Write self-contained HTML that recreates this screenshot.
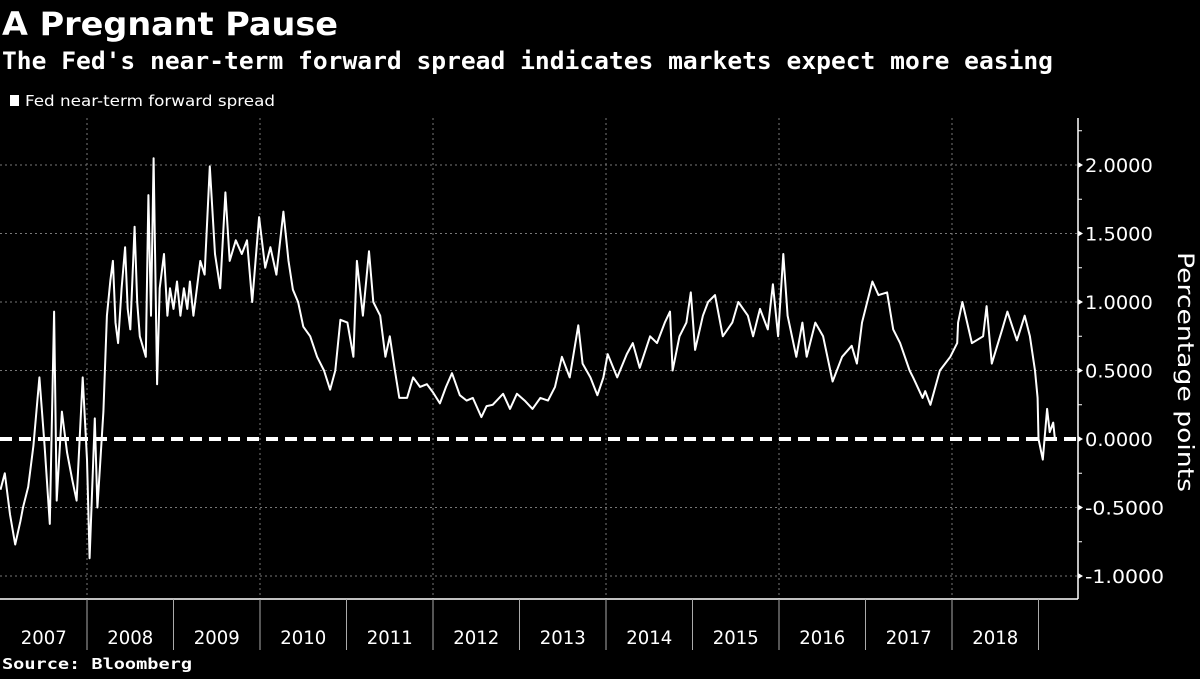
<!DOCTYPE html>
<html><head><meta charset="utf-8"><style>
html,body{margin:0;padding:0;background:#000;}
body{width:1200px;height:675px;overflow:hidden;font-family:"DejaVu Sans",sans-serif;color:#fff;}
</style></head><body>
<svg width="1200" height="675" viewBox="0 0 1200 675" xmlns="http://www.w3.org/2000/svg">
<rect width="1200" height="675" fill="#000"/>
<text x="2" y="35" font-size="32" font-weight="bold" fill="#fff" font-family="DejaVu Sans, sans-serif" textLength="336" lengthAdjust="spacingAndGlyphs">A Pregnant Pause</text>
<text x="2" y="69" font-size="24" font-weight="bold" fill="#fff" font-family="DejaVu Sans Mono, monospace" textLength="1051" lengthAdjust="spacingAndGlyphs">The Fed's near-term forward spread indicates markets expect more easing</text>
<rect x="10" y="95" width="9" height="11" fill="#fff"/>
<text x="25" y="106" font-size="15" fill="#fff" font-family="DejaVu Sans, sans-serif" textLength="250" lengthAdjust="spacingAndGlyphs">Fed near-term forward spread</text>
<g id="grid"></g>
<g id="axes"></g>
<g id="series"></g>
<text transform="translate(1178,372) rotate(90)" text-anchor="middle" font-size="22" fill="#fff" font-family="DejaVu Sans, sans-serif" textLength="240" lengthAdjust="spacingAndGlyphs">Percentage points</text>
<text x="2" y="669" font-size="15" font-weight="bold" fill="#fff" font-family="DejaVu Sans Mono, monospace" textLength="190" lengthAdjust="spacingAndGlyphs">Source: Bloomberg</text>
</svg>
<script>
const years = [2007,2008,2009,2010,2011,2012,2013,2014,2015,2016,2017,2018];
const yTicks = [2.0,1.5,1.0,0.5,0.0,-0.5,-1.0];
const yTickLabels = ["2.0000","1.5000","1.0000","0.5000","0.0000","-0.5000","-1.0000"];
const gridYears = [2008,2010,2012,2014,2016,2018];
const dates = [2007.00,2007.05,2007.11,2007.17,2007.23,2007.26,2007.32,2007.38,2007.45,2007.51,2007.57,2007.62,2007.65,2007.71,2007.77,2007.83,2007.88,2007.95,2008.00,2008.03,2008.09,2008.12,2008.15,2008.19,2008.23,2008.27,2008.30,2008.33,2008.36,2008.40,2008.44,2008.47,2008.50,2008.55,2008.58,2008.61,2008.68,2008.71,2008.74,2008.77,2008.81,2008.84,2008.89,2008.93,2008.96,2009.00,2009.04,2009.08,2009.12,2009.16,2009.19,2009.23,2009.27,2009.31,2009.36,2009.42,2009.48,2009.54,2009.60,2009.65,2009.72,2009.79,2009.85,2009.91,2009.99,2010.06,2010.12,2010.19,2010.27,2010.33,2010.38,2010.44,2010.50,2010.58,2010.66,2010.74,2010.81,2010.87,2010.93,2011.01,2011.08,2011.12,2011.19,2011.26,2011.31,2011.39,2011.45,2011.50,2011.56,2011.61,2011.70,2011.77,2011.85,2011.93,2012.00,2012.08,2012.15,2012.22,2012.31,2012.39,2012.46,2012.56,2012.62,2012.69,2012.81,2012.89,2012.97,2013.06,2013.15,2013.24,2013.33,2013.41,2013.49,2013.58,2013.68,2013.73,2013.82,2013.90,2013.97,2014.02,2014.13,2014.24,2014.31,2014.39,2014.51,2014.59,2014.68,2014.74,2014.77,2014.85,2014.93,2014.98,2015.03,2015.12,2015.18,2015.26,2015.35,2015.46,2015.53,2015.64,2015.70,2015.78,2015.87,2015.93,2015.99,2016.05,2016.10,2016.20,2016.27,2016.32,2016.42,2016.51,2016.62,2016.73,2016.84,2016.90,2016.96,2017.08,2017.15,2017.25,2017.32,2017.40,2017.51,2017.55,2017.66,2017.69,2017.75,2017.86,2017.98,2018.06,2018.07,2018.12,2018.23,2018.36,2018.40,2018.46,2018.58,2018.64,2018.75,2018.84,2018.90,2018.96,2018.99,2019.00,2019.05,2019.10,2019.13,2019.17,2019.19];
const values = [-0.37,-0.25,-0.55,-0.77,-0.60,-0.50,-0.35,-0.05,0.45,-0.05,-0.62,0.93,-0.45,0.20,-0.10,-0.30,-0.45,0.45,-0.15,-0.87,0.15,-0.50,-0.20,0.20,0.90,1.16,1.30,0.85,0.70,1.10,1.40,0.95,0.80,1.55,1.00,0.75,0.60,1.78,0.90,2.05,0.40,1.10,1.35,0.90,1.10,0.95,1.15,0.90,1.10,0.95,1.15,0.90,1.10,1.30,1.20,1.99,1.35,1.10,1.80,1.30,1.45,1.35,1.45,1.00,1.62,1.25,1.40,1.20,1.66,1.30,1.09,1.00,0.82,0.75,0.60,0.50,0.36,0.50,0.87,0.85,0.60,1.30,0.90,1.37,1.00,0.90,0.60,0.75,0.50,0.30,0.30,0.45,0.38,0.40,0.34,0.26,0.38,0.48,0.32,0.28,0.30,0.16,0.24,0.25,0.33,0.22,0.33,0.28,0.22,0.30,0.28,0.38,0.60,0.45,0.83,0.55,0.45,0.32,0.45,0.62,0.45,0.62,0.70,0.52,0.75,0.70,0.85,0.93,0.50,0.75,0.85,1.07,0.65,0.90,1.00,1.05,0.75,0.85,1.00,0.90,0.75,0.95,0.80,1.13,0.75,1.35,0.90,0.60,0.85,0.60,0.85,0.75,0.42,0.60,0.68,0.55,0.85,1.15,1.05,1.07,0.80,0.70,0.50,0.45,0.30,0.35,0.25,0.50,0.60,0.70,0.85,1.00,0.70,0.75,0.97,0.55,0.80,0.93,0.72,0.90,0.75,0.50,0.30,0.00,-0.15,0.22,0.05,0.12,0.00,-0.05];

const NS='http://www.w3.org/2000/svg';
const X0=0.5, PX_PER_YEAR=86.5, Y0=439, PX_PER_UNIT=137;
const PLOT_LEFT=0, PLOT_RIGHT=1078, PLOT_TOP=118, PLOT_BOTTOM=599;
function xScale(t){return X0+(t-2007)*PX_PER_YEAR;}
function yScale(v){return Y0-v*PX_PER_UNIT;}
function mk(tag,attrs,parent){const e=document.createElementNS(NS,tag);for(const k in attrs)e.setAttribute(k,attrs[k]);parent.appendChild(e);return e;}
const grid=document.getElementById('grid'), axes=document.getElementById('axes'), series=document.getElementById('series');

yTicks.forEach((v,i)=>{
  const y=yScale(v);
  if(v!==0){
    const g=mk('line',{x1:PLOT_LEFT,x2:PLOT_RIGHT,y1:y,y2:y,stroke:'#777','stroke-width':1,'stroke-dasharray':'2,3'},grid);
    
    
  }
  const tk=mk('path',{d:`M${PLOT_RIGHT},${y-3} L${PLOT_RIGHT+5},${y} L${PLOT_RIGHT},${y+3} Z`,fill:'#fff'},axes);
  
  
  const lbl=yTickLabels[i];
  const t=mk('text',{x:PLOT_RIGHT+7,y:y+7,'font-size':19,fill:'#fff','font-family':'DejaVu Sans, sans-serif',textLength:(lbl.length*11.3).toFixed(1),lengthAdjust:'spacingAndGlyphs'},axes);
  t.textContent=lbl;
  
  
});
for(let v=-0.75;v<=2.26;v+=0.5){
  const y=yScale(v);
  const m=mk('line',{x1:PLOT_RIGHT,x2:PLOT_RIGHT+4,y1:y,y2:y,stroke:'#fff','stroke-width':1},axes);
  
  
}
gridYears.forEach(yr=>{
  const x=xScale(yr);
  const g=mk('line',{x1:x,x2:x,y1:PLOT_TOP,y2:PLOT_BOTTOM,stroke:'#777','stroke-width':1,'stroke-dasharray':'2,3'},grid);
  
  
});
const ya=mk('line',{x1:PLOT_RIGHT,x2:PLOT_RIGHT,y1:PLOT_TOP,y2:PLOT_BOTTOM,stroke:'#fff','stroke-width':1.5},axes);


const xa=mk('line',{x1:PLOT_LEFT,x2:PLOT_RIGHT,y1:PLOT_BOTTOM,y2:PLOT_BOTTOM,stroke:'#fff','stroke-width':1.5},axes);


years.forEach(yr=>{
  const xb=xScale(yr+1);
  const s=mk('line',{x1:xb,x2:xb,y1:PLOT_BOTTOM,y2:650,stroke:'#aaa','stroke-width':1},axes);
  
  
  const t=mk('text',{x:xScale(yr+0.5),y:644,'text-anchor':'middle','font-size':19,fill:'#fff','font-family':'DejaVu Sans, sans-serif',textLength:46,lengthAdjust:'spacingAndGlyphs'},axes);
  t.textContent=String(yr);
  
  
});
const zl=mk('line',{x1:PLOT_LEFT,x2:PLOT_RIGHT,y1:yScale(0),y2:yScale(0),stroke:'#fff','stroke-width':4,'stroke-dasharray':'12,7'},series);


let d='';
dates.forEach((t,i)=>{d+=(i?'L':'M')+xScale(t).toFixed(1)+','+yScale(values[i]).toFixed(1);});
const ln=mk('path',{d:d,fill:'none',stroke:'#fff','stroke-width':2,'stroke-linejoin':'round'},series);


</script>
</body></html>
